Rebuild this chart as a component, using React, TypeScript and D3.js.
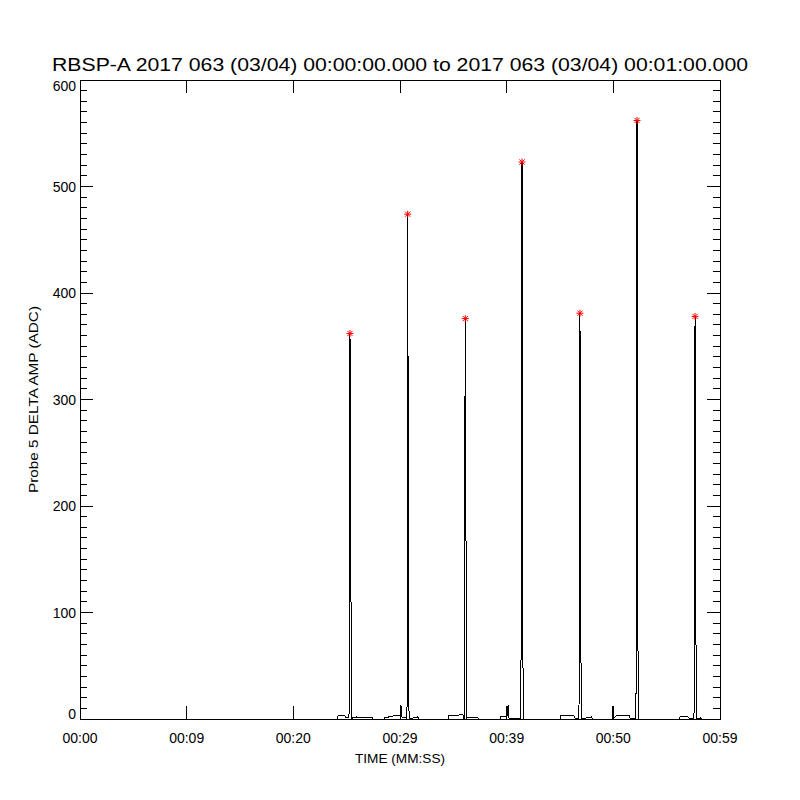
import React from "react";
import * as d3 from "d3";

const titleText = "RBSP-A 2017 063 (03/04) 00:00:00.000 to 2017 063 (03/04) 00:01:00.000";
const xAxisTitle = "TIME (MM:SS)";
const yAxisTitle = "Probe 5 DELTA AMP (ADC)";

const xTickValues = [0, 10, 20, 30, 40, 50, 60];
const xTickLabels = ["00:00", "00:09", "00:20", "00:29", "00:39", "00:50", "00:59"];
const yTickValues = [0, 100, 200, 300, 400, 500, 600];
const yTickLabels = ["0", "100", "200", "300", "400", "500", "600"];

// seconds since 00:00:00
const sampleTimes = [
  0, 24.10, 24.19, 24.84, 24.90, 25.21, 25.26, 25.31, 25.36, 25.41, 25.46, 25.55, 25.90, 25.95, 26.00, 27.40, 27.45,
  28.50, 28.55, 29.40, 30.00, 30.09, 30.14, 30.55, 30.62, 30.67, 30.72, 30.77, 30.82, 30.87, 31.69, 31.74,
  34.50, 34.55, 35.90, 35.95, 36.02, 36.07, 36.12, 36.17, 36.22, 36.30, 37.30, 37.35,
  39.40, 39.45, 40.05, 40.13, 40.18, 41.29, 41.34, 41.39, 41.44, 41.49, 41.54, 41.59,
  45.00, 45.05, 46.30, 46.35, 46.77, 46.82, 46.87, 46.92, 46.97, 47.02, 47.97, 48.02,
  49.92, 49.97, 50.02, 50.30, 51.50, 51.55, 52.12, 52.17, 52.22, 52.27, 52.32,
  56.20, 56.25, 57.00, 57.05, 57.56, 57.61, 57.66, 57.71, 57.76, 57.81, 58.20, 58.25, 60,
];
const sampleAmps = [
  0, 0, 3, 3, 1, 1, 21, 362, 280, 100, 0, 1, 1, 2, 1, 1, 0,
  0, 1, 3, 3, 13, 2, 1, 0, 15, 474, 259, 15, 0, 2, 0,
  0, 3, 4, 1, 0, 224, 376, 264, 0, 1, 1, 0,
  0, 2, 3, 13, 1, 0, 36, 207, 523, 297, 5, 0,
  0, 3, 3, 1, 0, 53, 381, 241, 53, 0, 2, 0,
  0, 12, 1, 3, 3, 1, 0, 165, 562, 447, 0,
  0, 2, 2, 1, 0, 71, 378, 225, 37, 0, 1, 0, 0,
];

const peakTimes = [25.31, 30.72, 36.12, 41.44, 46.87, 52.22, 57.66];
const peakAmps = [362, 474, 376, 523, 381, 562, 378];

const FONT = "'Liberation Sans', Arial, sans-serif";

export default function App() {
  const left = 80, right = 720, top = 80, bottom = 719;
  const x = d3.scaleLinear().domain([0, 60]).range([left, right]);
  const y = d3.scaleLinear().domain([0, 600]).range([bottom, top]);

  const pts: [number, number][] = sampleTimes.map((t, i) => [t, sampleAmps[i]]);
  const line = d3.line<[number, number]>().x((d) => x(d[0])).y((d) => y(d[1]));

  const yMinor = d3.range(0, 601, 10).filter((v) => v % 100 !== 0);
  const majorLen = 13, minorLen = 7;

  return (
    <svg width={800} height={800} style={{ display: "block", position: "absolute", left: 0, top: 0, background: "#fff" }}>
      <rect x={0} y={0} width={800} height={800} fill="#fff" />
      <text x={400} y={71} textAnchor="middle" fontFamily={FONT} fontSize={18} textLength={696} lengthAdjust="spacingAndGlyphs">
        {titleText}
      </text>
      <g shapeRendering="crispEdges" stroke="#000" strokeWidth={1}>
        <rect x={left} y={top} width={right - left} height={bottom - top} fill="none" />
        {xTickValues.map((v) => (
          <g key={"xt" + v}>
            <line x1={x(v)} x2={x(v)} y1={bottom} y2={bottom - majorLen} />
            <line x1={x(v)} x2={x(v)} y1={top} y2={top + majorLen} />
          </g>
        ))}
        {yTickValues.map((v) => (
          <g key={"yt" + v}>
            <line x1={left} x2={left + majorLen} y1={y(v)} y2={y(v)} />
            <line x1={right} x2={right - majorLen} y1={y(v)} y2={y(v)} />
          </g>
        ))}
        {yMinor.map((v) => (
          <g key={"ym" + v}>
            <line x1={left} x2={left + minorLen} y1={y(v)} y2={y(v)} />
            <line x1={right} x2={right - minorLen} y1={y(v)} y2={y(v)} />
          </g>
        ))}
        <path d={line(pts) || ""} fill="none" stroke="#000" strokeWidth={1} />
      </g>
      <g stroke="#ff0000" strokeWidth={1}>
        {peakTimes.map((t, i) => {
          const cx = x(t), cy = y(peakAmps[i]);
          const r = 3.5, d = 2.6;
          return (
            <g key={"pk" + i}>
              <line x1={cx - r} x2={cx + r} y1={cy} y2={cy} />
              <line x1={cx} x2={cx} y1={cy - r} y2={cy + r} />
              <line x1={cx - d} x2={cx + d} y1={cy - d} y2={cy + d} />
              <line x1={cx - d} x2={cx + d} y1={cy + d} y2={cy - d} />
            </g>
          );
        })}
      </g>
      <g fontFamily={FONT} fontSize={14} fill="#000">
        {xTickValues.map((v, i) => (
          <text key={"xl" + v} x={x(v)} y={743} textAnchor="middle">
            {xTickLabels[i]}
          </text>
        ))}
        {yTickValues.map((v, i) => {
          let by = y(v) + 5;
          if (i === 0) by = y(v);
          if (i === yTickValues.length - 1) by = y(v) + 11;
          return (
            <text key={"yl" + v} x={76} y={by} textAnchor="end">
              {yTickLabels[i]}
            </text>
          );
        })}
      </g>
      <text x={400} y={763} textAnchor="middle" fontFamily={FONT} fontSize={13} textLength={90} lengthAdjust="spacingAndGlyphs">
        {xAxisTitle}
      </text>
      <text
        transform={`translate(38,${(top + bottom) / 2}) rotate(-90)`}
        textAnchor="middle"
        fontFamily={FONT}
        fontSize={13}
        textLength={187}
        lengthAdjust="spacingAndGlyphs"
      >
        {yAxisTitle}
      </text>
    </svg>
  );
}
